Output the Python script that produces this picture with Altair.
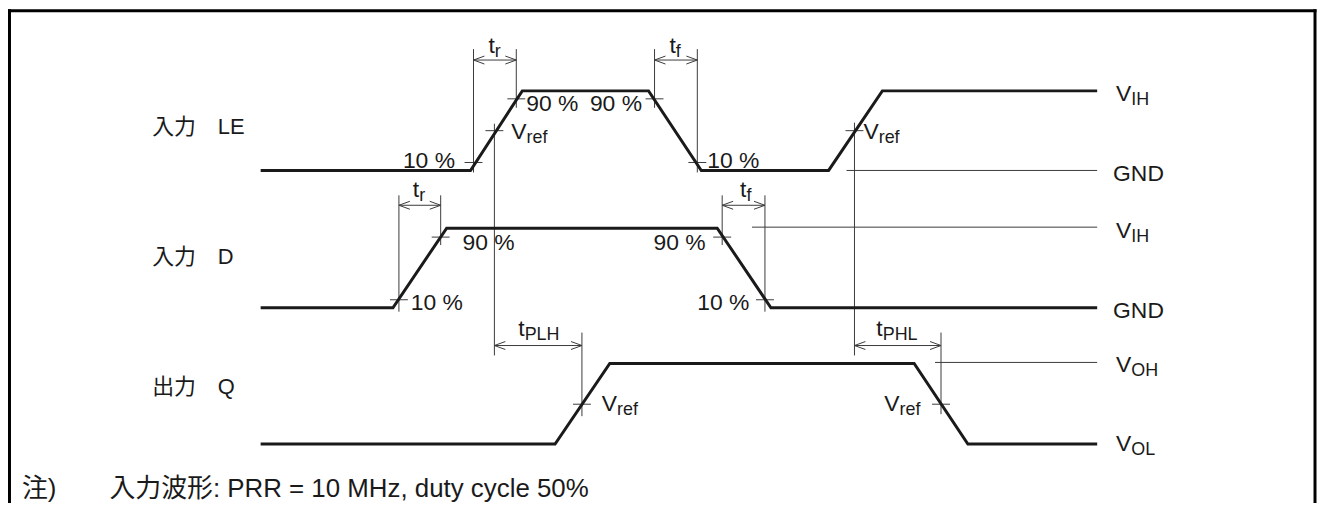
import altair as alt
import pandas as pd

# ---- waveform breakpoints (time position, level position) ----
le_t = [262, 473, 525, 652, 705, 833, 887, 1103]
le_v = [170, 170, 90, 90, 170, 170, 90, 90]
d_t = [262, 395, 449, 721, 775, 1103]
d_v = [308, 308, 228, 228, 308, 308]
q_t = [262, 558, 613, 919, 973, 1103]
q_v = [445, 445, 364, 364, 445, 445]

# ---- thin guide lines (x1, y1, x2, y2) ----
guides = [
    (476, 48, 476, 172), (519, 48, 519, 107),      # LE t_r
    (658, 48, 658, 107), (701, 48, 701, 172),      # LE t_f
    (497, 123, 497, 356), (859, 122, 859, 356),    # LE Vref drops
    (851, 170, 1103, 170),                         # LE GND
    (401, 195, 401, 312), (443, 195, 443, 245),    # D t_r
    (726, 195, 726, 245), (769, 195, 769, 312),    # D t_f
    (756, 227, 1103, 227),                         # D VIH
    (585, 333, 585, 417), (946, 333, 946, 415),    # Q tPLH / tPHL
    (940, 363, 1103, 363),                         # Q VOH
]

# ---- measurement crosses (x, y) ----
ticks = [(476, 162), (519, 98), (497, 130), (658, 98), (701, 162), (859, 130),
         (401, 300), (443, 237), (726, 237), (769, 300), (585, 405), (946, 405)]

# ---- dimension arrows (x_start, x_end, y) ----
arrows = [(476, 519, 59), (658, 701, 59), (401, 443, 205), (726, 769, 205),
          (497, 585, 346), (859, 946, 346)]

# ---- labels: (main, subscript, x, baseline y) ----
labels = [
    ("t", "r", 491, 52), ("t", "f", 673, 52),
    ("10 %", "", 405, 168), ("V", "ref", 514, 138), ("90 %", "", 529, 110),
    ("90 %", "", 593, 110), ("10 %", "", 711, 168), ("V", "ref", 868, 138),
    ("t", "r", 415, 197), ("t", "f", 744, 197),
    ("10 %", "", 413, 310), ("90 %", "", 465, 250), ("90 %", "", 657, 250),
    ("10 %", "", 701, 310),
    ("t", "PLH", 521, 336), ("t", "PHL", 881, 336),
    ("V", "ref", 605, 412), ("V", "ref", 889, 412),
    ("V", "IH", 1122, 100), ("GND", "", 1119, 181), ("V", "IH", 1122, 238),
    ("GND", "", 1119, 318), ("V", "OH", 1122, 373), ("V", "OL", 1122, 452),
]
side_labels = [("入力\u3000LE", 153, 133), ("入力\u3000D", 153, 264), ("出力\u3000Q", 153, 395)]
notes = [("注)", 22, 498), ("入力波形: PRR = 10 MHz, duty cycle 50%", 110, 498)]
frame = [(9.5, 9.5, 1322, 9.5), (9.5, 9.5, 9.5, 503), (1322, 9.5, 1322, 503)]

FONT = "Liberation Sans, Arial, Noto Sans CJK JP"
MAIN_SIZE = 23
SUB_SIZE = 18
SIDE_SIZE = 22
NOTE_SIZE = 26
ADV = {"V": 0.667, "t": 0.278}
INK = "#1a1a1a"
THIN = "#3a3a3a"

W, H = 1316, 495
xs = alt.Scale(domain=[8, 8 + W], nice=False, zero=False)
ys = alt.Scale(domain=[8, 8 + H], nice=False, zero=False, reverse=True)

def X(f="x"):
    return alt.X(f"{f}:Q", scale=xs, axis=None)

def Y(f="y"):
    return alt.Y(f"{f}:Q", scale=ys, axis=None)

# signals
sig_rows = []
for name, ts, vs in [("LE", le_t, le_v), ("D", d_t, d_v), ("Q", q_t, q_v)]:
    for i, (t, v) in enumerate(zip(ts, vs)):
        sig_rows.append({"sig": name, "i": i, "x": t, "y": v})
signals = alt.Chart(pd.DataFrame(sig_rows)).mark_line(
    color=INK, strokeWidth=3, strokeJoin="miter"
).encode(x=X(), y=Y(), detail="sig:N", order="i:Q")

# thin lines: guides + ticks + arrows
thin_rows = [dict(x=a, y=b, x2=c, y2=d) for a, b, c, d in guides]
for tx, ty in ticks:
    thin_rows.append(dict(x=tx - 9, y=ty, x2=tx + 9, y2=ty))
HEAD_L, HEAD_W = 11, 4
for xa, xb, ya in arrows:
    thin_rows.append(dict(x=xa, y=ya, x2=xb, y2=ya))
    thin_rows.append(dict(x=xa, y=ya, x2=xa + HEAD_L, y2=ya - HEAD_W))
    thin_rows.append(dict(x=xa, y=ya, x2=xa + HEAD_L, y2=ya + HEAD_W))
    thin_rows.append(dict(x=xb, y=ya, x2=xb - HEAD_L, y2=ya - HEAD_W))
    thin_rows.append(dict(x=xb, y=ya, x2=xb - HEAD_L, y2=ya + HEAD_W))
thin = alt.Chart(pd.DataFrame(thin_rows)).mark_rule(color=THIN, strokeWidth=1).encode(
    x=X(), y=Y(), x2="x2:Q", y2="y2:Q")

border = alt.Chart(pd.DataFrame([dict(x=a, y=b, x2=c, y2=d) for a, b, c, d in frame])).mark_rule(
    color="#000000", strokeWidth=3, strokeCap="square").encode(x=X(), y=Y(), x2="x2:Q", y2="y2:Q")

main_rows, sub_rows = [], []
for m, s, x, y in labels:
    main_rows.append(dict(x=x, y=y, text=m))
    if s:
        sub_rows.append(dict(x=x + ADV[m] * MAIN_SIZE, y=y + 4, text=s))

main_txt = alt.Chart(pd.DataFrame(main_rows)).mark_text(
    align="left", baseline="alphabetic", font=FONT, fontSize=MAIN_SIZE, color=INK
).encode(x=X(), y=Y(), text="text:N")
sub_txt = alt.Chart(pd.DataFrame(sub_rows)).mark_text(
    align="left", baseline="alphabetic", font=FONT, fontSize=SUB_SIZE, color=INK
).encode(x=X(), y=Y(), text="text:N")
side_txt = alt.Chart(pd.DataFrame([dict(x=x, y=y, text=t) for t, x, y in side_labels])).mark_text(
    align="left", baseline="alphabetic", font=FONT, fontSize=SIDE_SIZE, color=INK
).encode(x=X(), y=Y(), text="text:N")
note_txt = alt.Chart(pd.DataFrame([dict(x=x, y=y, text=t) for t, x, y in notes])).mark_text(
    align="left", baseline="alphabetic", font=FONT, fontSize=NOTE_SIZE, color=INK
).encode(x=X(), y=Y(), text="text:N")

chart = alt.layer(border, thin, signals, main_txt, sub_txt, side_txt, note_txt).properties(
    width=W, height=H, padding=0, autosize=alt.AutoSizeParams(type="none"),
    background="white"
).configure_view(stroke=None)

chart.save("out.html", embed_options={"renderer": "svg", "actions": False})
